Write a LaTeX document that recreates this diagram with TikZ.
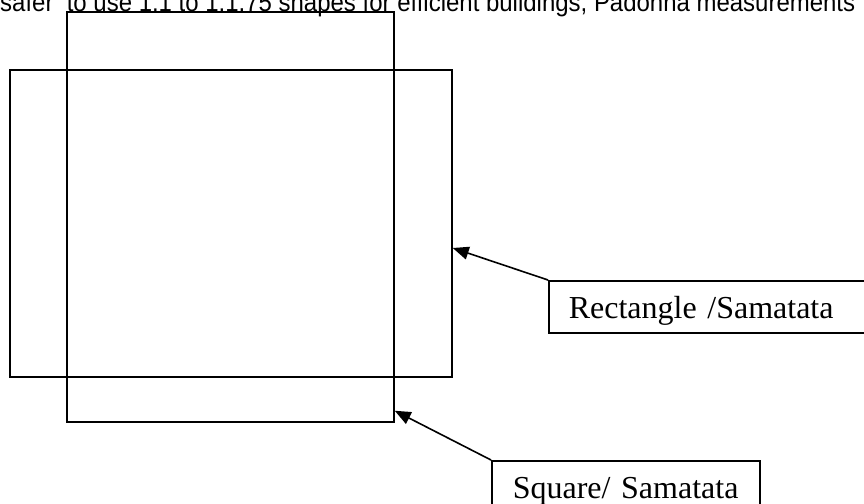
\documentclass[tikz,border=0pt]{standalone}
\usepackage{fontspec}
\setmainfont{Liberation Serif}
\newfontfamily\headfont{Liberation Sans}
\usetikzlibrary{arrows.meta}
\tikzset{
  outline/.style={draw=black, line width=1.5pt, inner sep=0pt},
  labelbox/.style={draw=black, line width=1.5pt, anchor=north west, align=left,
    inner ysep=8pt, text height=30pt, text depth=6pt,
    font=\fontsize{32}{36}\selectfont},
  pointer/.style={line width=1.6pt, -{Triangle[length=16pt,width=13pt]}}
}
\begin{document}
\begin{tikzpicture}[x=1pt, y=-1pt]
  \useasboundingbox (0,0) rectangle (864,503);

  % heading line, partly cut off by the page edge
  \node[anchor=base west, inner sep=0pt] (head) at (0,11.5)
    {\resizebox{855pt}{\height}{\headfont\fontsize{26}{30}\selectfont safer\ \ to use 1:1 to 1:1.75 shapes for efficient buildings, Padonna measurements}};

  % the two overlapping plan shapes
  \node[outline, minimum width=442pt, minimum height=307pt] (rect) at (231,223.5) {};
  \node[outline, minimum width=327pt, minimum height=410pt] (sq) at (230.5,217) {};

  % label boxes
  \node[labelbox, inner xsep=20pt, text width=282pt] (rlab) at (548,280) {Rectangle /Samatata};
  \node[labelbox, inner xsep=21pt, text width=226pt] (slab) at (491,460) {Square/ Samatata};

  % pointers from labels to the shapes
  \draw[pointer] (rlab.north west) -- ([yshift=-24.5pt]rect.east);
  \draw[pointer] (slab.north west) -- ([yshift=12pt]sq.south east);
\end{tikzpicture}
\end{document}
